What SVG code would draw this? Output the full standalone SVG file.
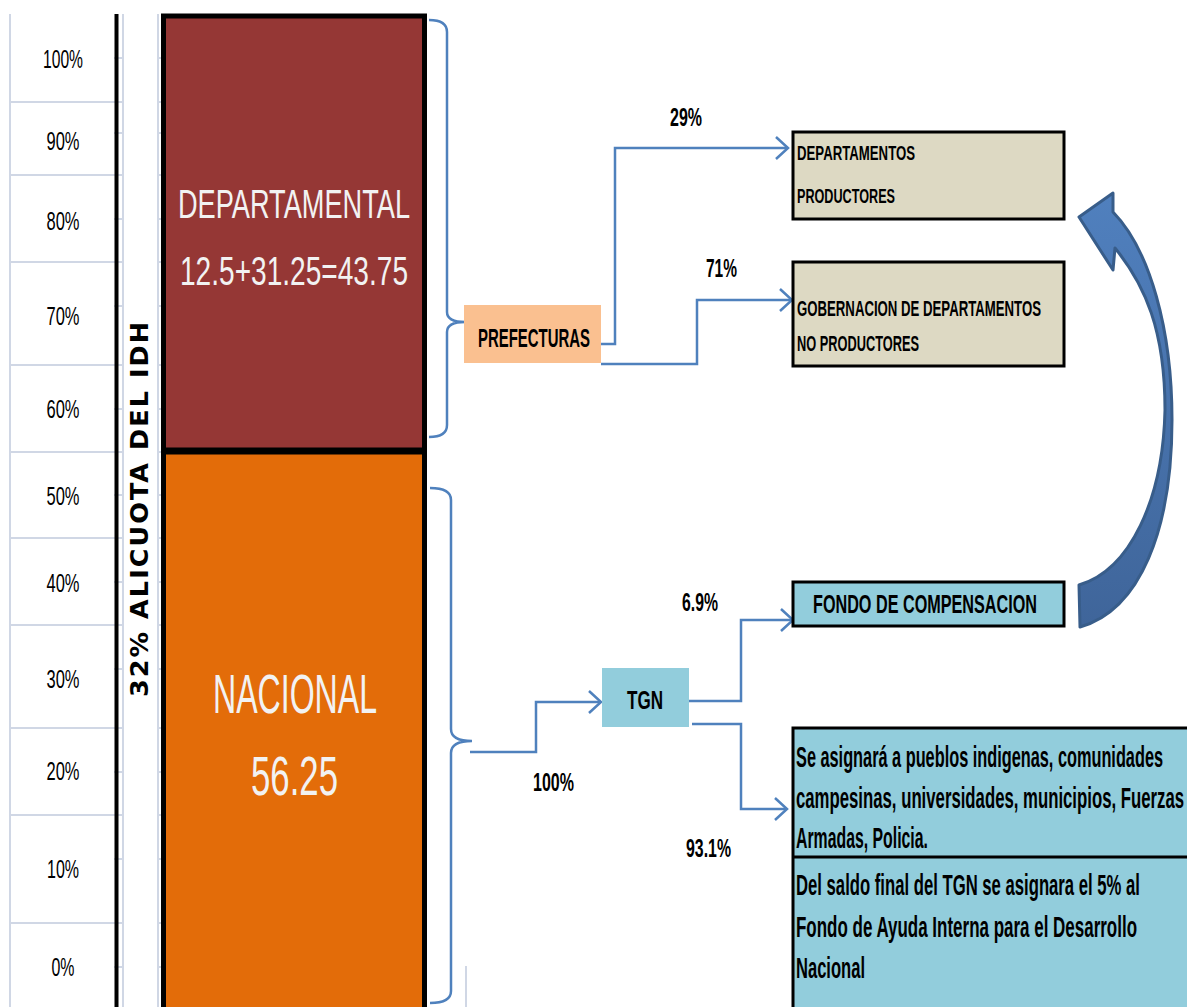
<svg xmlns="http://www.w3.org/2000/svg" width="1187" height="1007" viewBox="0 0 1187 1007">
  <defs>
    <style>
      .grid { stroke: #d0d7e5; stroke-width: 2; fill: none; }
      .conn { stroke: #4f81bd; stroke-width: 2.5; fill: none; }
      .pct { font-family: "Liberation Sans", Arial, sans-serif; font-size: 26px; fill: #000; text-anchor: middle; }
      .lbl { font-family: "Liberation Sans", Arial, sans-serif; font-size: 26px; font-weight: bold; fill: #000; text-anchor: middle; }
      .box { stroke: #000; stroke-width: 3; }
      .btxt { font-family: "Liberation Sans", Arial, sans-serif; font-weight: bold; fill: #000; }
      .bar { font-family: "Liberation Sans", Arial, sans-serif; fill: #f2f2f2; text-anchor: middle; }
    </style>
    <marker id="chev" viewBox="-14 -13 16 26" refX="0" refY="0" markerWidth="16" markerHeight="26" markerUnits="userSpaceOnUse" orient="auto">
      <path d="M-12,-11 L0,0 L-12,11" fill="none" stroke="#4f81bd" stroke-width="2.5"/>
    </marker>
    <linearGradient id="curveFill" x1="0" y1="0" x2="0" y2="1">
      <stop offset="0" stop-color="#5080be"/>
      <stop offset="1" stop-color="#3f659a"/>
    </linearGradient>
  </defs>

  <rect width="1187" height="1007" fill="#ffffff"/>

  <!-- spreadsheet grid on the left -->
  <g id="grid">
    <line class="grid" x1="10" y1="14" x2="10" y2="1007"/>
    <line class="grid" x1="123" y1="14" x2="123" y2="1007"/>
    <line class="grid" x1="158" y1="14" x2="158" y2="1007"/>
    <line class="grid" x1="466" y1="966" x2="466" y2="1007"/>
    <path class="grid" d="M10,102H123 M10,175H123 M10,262H123 M10,365H123 M10,452H123 M10,538H123 M10,625H123 M10,728H123 M10,815H123 M10,923H123"/>
    <path class="grid" d="M114,58H123 M114,133H123 M114,219H123 M114,306H123 M114,409H123 M114,495H123 M114,582H123 M114,669H123 M114,772H123 M114,859H123 M114,967H123"/>
    <path class="grid" d="M158,58H163 M158,102H163 M158,133H163 M158,175H163 M158,219H163 M158,262H163 M158,306H163 M158,365H163 M158,409H163 M158,452H163 M158,495H163 M158,538H163 M158,582H163 M158,625H163 M158,669H163 M158,728H163 M158,772H163 M158,815H163 M158,859H163 M158,923H163 M158,967H163"/>
    <line x1="116.5" y1="14" x2="116.5" y2="1007" stroke="#000" stroke-width="4"/>
  </g>

  <!-- percentage scale -->
  <g id="scale">
    <text class="pct" x="63" y="68" textLength="40" lengthAdjust="spacingAndGlyphs">100%</text>
    <text class="pct" x="63" y="150" textLength="33" lengthAdjust="spacingAndGlyphs">90%</text>
    <text class="pct" x="63" y="230" textLength="33" lengthAdjust="spacingAndGlyphs">80%</text>
    <text class="pct" x="63" y="325" textLength="33" lengthAdjust="spacingAndGlyphs">70%</text>
    <text class="pct" x="63" y="418" textLength="33" lengthAdjust="spacingAndGlyphs">60%</text>
    <text class="pct" x="63" y="505" textLength="33" lengthAdjust="spacingAndGlyphs">50%</text>
    <text class="pct" x="63" y="592" textLength="33" lengthAdjust="spacingAndGlyphs">40%</text>
    <text class="pct" x="63" y="688" textLength="33" lengthAdjust="spacingAndGlyphs">30%</text>
    <text class="pct" x="63" y="780" textLength="33" lengthAdjust="spacingAndGlyphs">20%</text>
    <text class="pct" x="63" y="878" textLength="32" lengthAdjust="spacingAndGlyphs">10%</text>
    <text class="pct" x="63" y="976" textLength="23" lengthAdjust="spacingAndGlyphs">0%</text>
  </g>

  <!-- vertical axis title -->
  <g id="axis-title">
    <text transform="translate(147.5,509.5) rotate(-90)" x="0" y="0" font-family="'DejaVu Sans', Verdana, sans-serif" font-weight="bold" font-size="25.5" text-anchor="middle" textLength="375" lengthAdjust="spacing">32% ALICUOTA DEL IDH</text>
  </g>

  <!-- stacked bar -->
  <g id="departamental">
    <rect x="163" y="16" width="262" height="435" fill="#953735"/>
    <text class="bar" x="294" y="218" font-size="40" textLength="232" lengthAdjust="spacingAndGlyphs">DEPARTAMENTAL</text>
    <text class="bar" x="294" y="285" font-size="40" textLength="228" lengthAdjust="spacingAndGlyphs">12.5+31.25=43.75</text>
  </g>
  <g id="nacional">
    <rect x="163" y="451" width="262" height="560" fill="#e36c09"/>
    <text class="bar" x="295" y="713" font-size="56" textLength="164" lengthAdjust="spacingAndGlyphs">NACIONAL</text>
    <text class="bar" x="294.5" y="795" font-size="56" textLength="87" lengthAdjust="spacingAndGlyphs">56.25</text>
  </g>
  <g id="bar-frame">
    <rect x="163.5" y="16" width="261" height="1000" fill="none" stroke="#000" stroke-width="5"/>
    <line x1="163" y1="451" x2="425" y2="451" stroke="#000" stroke-width="7"/>
  </g>

  <!-- connectors and braces -->
  <g id="connectors">
    <path class="conn" d="M429,20 Q447,20 447,32 L447,312 Q447,322 465,322 Q447,322 447,332 L447,425 Q447,437 429,437"/>
    <path class="conn" d="M430,488 Q451,488 451,500 L451,729 Q451,741 472,741 Q451,741 451,753 L451,991 Q451,1003 430,1003"/>
    <path class="conn" marker-end="url(#chev)" d="M601,344 H615 V148 H788"/>
    <path class="conn" marker-end="url(#chev)" d="M601,364 H697 V300 H792"/>
    <path class="conn" marker-end="url(#chev)" d="M470,752 H536 V702 H601"/>
    <path class="conn" marker-end="url(#chev)" d="M689,701 H741 V620 H793"/>
    <path class="conn" marker-end="url(#chev)" d="M692,724 H741 V809 H787"/>
  </g>

  <!-- flow labels -->
  <g id="labels">
    <text class="lbl" x="686" y="126" textLength="32" lengthAdjust="spacingAndGlyphs">29%</text>
    <text class="lbl" x="721.5" y="277" textLength="31" lengthAdjust="spacingAndGlyphs">71%</text>
    <text class="lbl" x="700" y="611" textLength="36" lengthAdjust="spacingAndGlyphs">6.9%</text>
    <text class="lbl" x="553.5" y="791" textLength="41" lengthAdjust="spacingAndGlyphs">100%</text>
    <text class="lbl" x="708.5" y="857" textLength="45" lengthAdjust="spacingAndGlyphs">93.1%</text>
  </g>

  <g id="prefecturas">
    <rect x="464" y="305" width="137" height="58" fill="#fac090"/>
    <text class="lbl" x="534" y="347" textLength="112" lengthAdjust="spacingAndGlyphs">PREFECTURAS</text>
  </g>

  <g id="tgn">
    <rect x="602" y="668" width="87" height="59" fill="#92cddc"/>
    <text class="lbl" x="645" y="709" textLength="36" lengthAdjust="spacingAndGlyphs">TGN</text>
  </g>

  <!-- box texts are narrowed with a horizontal scale; textLength is given in the scaled units -->
  <g id="departamentos-productores">
    <rect class="box" x="793" y="132" width="271" height="87" fill="#ddd9c3"/>
    <text class="btxt" transform="translate(797,160) scale(0.6,1)" font-size="21" textLength="196.7" lengthAdjust="spacingAndGlyphs">DEPARTAMENTOS</text>
    <text class="btxt" transform="translate(797,203) scale(0.6,1)" font-size="21" textLength="163.3" lengthAdjust="spacingAndGlyphs">PRODUCTORES</text>
  </g>

  <g id="gobernacion">
    <rect class="box" x="793" y="262" width="271" height="104" fill="#ddd9c3"/>
    <text class="btxt" transform="translate(797,316) scale(0.58,1)" font-size="22" textLength="420.7" lengthAdjust="spacingAndGlyphs">GOBERNACION DE DEPARTAMENTOS</text>
    <text class="btxt" transform="translate(797,351) scale(0.58,1)" font-size="22" textLength="210.3" lengthAdjust="spacingAndGlyphs">NO PRODUCTORES</text>
  </g>

  <g id="fondo-compensacion">
    <rect class="box" x="793" y="582" width="271" height="44" fill="#92cddc"/>
    <text class="btxt" transform="translate(813,613) scale(0.62,1)" font-size="25" textLength="361.3" lengthAdjust="spacingAndGlyphs">FONDO DE COMPENSACION</text>
  </g>

  <g id="asignacion">
    <rect class="box" x="793" y="728" width="400" height="290" fill="#92cddc"/>
    <line x1="793" y1="857" x2="1190" y2="857" stroke="#000" stroke-width="3"/>
    <text class="btxt" transform="translate(796,767) scale(0.52,1)" font-size="29" textLength="705.8" lengthAdjust="spacingAndGlyphs">Se asignará a pueblos indigenas, comunidades</text>
    <text class="btxt" transform="translate(796,808) scale(0.52,1)" font-size="29" textLength="746.2" lengthAdjust="spacingAndGlyphs">campesinas, universidades, municipios, Fuerzas</text>
    <text class="btxt" transform="translate(796,848) scale(0.52,1)" font-size="29" textLength="253.8" lengthAdjust="spacingAndGlyphs">Armadas, Policia.</text>
    <text class="btxt" transform="translate(796,895) scale(0.52,1)" font-size="29" textLength="661.5" lengthAdjust="spacingAndGlyphs">Del saldo final del TGN se asignara el 5% al</text>
    <text class="btxt" transform="translate(796,937) scale(0.52,1)" font-size="29" textLength="655.8" lengthAdjust="spacingAndGlyphs">Fondo de Ayuda Interna para el Desarrollo</text>
    <text class="btxt" transform="translate(796,978) scale(0.52,1)" font-size="29" textLength="132.7" lengthAdjust="spacingAndGlyphs">Nacional</text>
  </g>

  <!-- curved block arrow from the compensation fund back to producing departments -->
  <g id="curved-arrow">
    <path d="M1079,217 L1113,193 L1113,212 C1150,250 1172,330 1172,420 C1172,530 1140,610 1080,627 L1079,585 C1130,570 1163,500 1165,410 C1165,330 1145,285 1115,248 L1113,270 Z" fill="url(#curveFill)" stroke="#385d8a" stroke-width="3" stroke-linejoin="round"/>
  </g>
</svg>
